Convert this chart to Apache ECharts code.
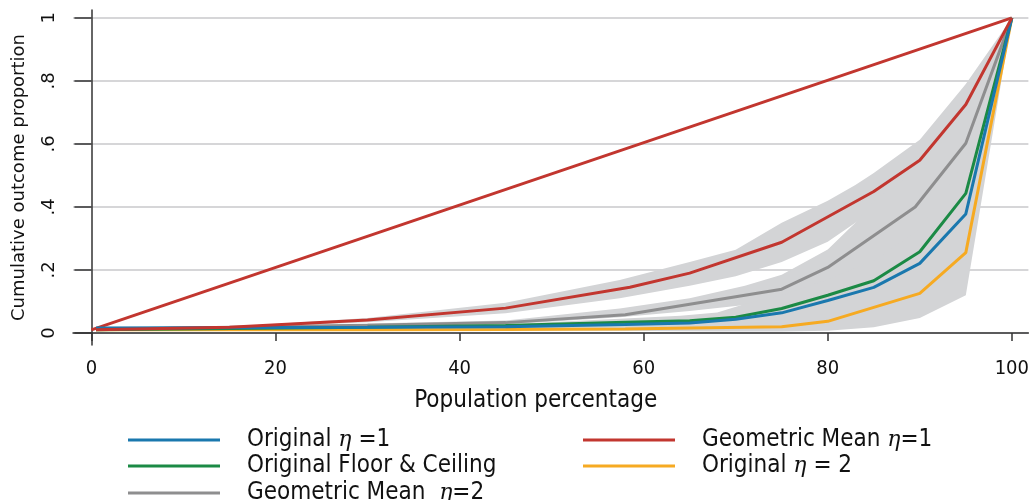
<!DOCTYPE html>
<html>
<head>
<meta charset="utf-8">
<script src="https://cdn.jsdelivr.net/npm/echarts@6/dist/echarts.min.js"></script>
<style>
  html, body { margin: 0; padding: 0; background: #fff; }
  #chart { width: 1032px; height: 500px; }
</style>
</head>
<body>
<div id="chart"></div>
<script>
// tick values
const xTicks = [0, 20, 40, 60, 80, 100];
const yTicks = [0, 0.2, 0.4, 0.6, 0.8, 1];
const yTickLabels = ["0", ".2", ".4", ".6", ".8", "1"];

// series names
const nameBlue = "Original η =1";
const nameRed = "Geometric Mean η=1";
const nameGreen = "Original Floor & Ceiling";
const nameYellow = "Original η = 2";
const nameGray = "Geometric Mean  η=2";

// equality line
const eqX = [0, 100];
const eqY = [0.01, 1];

// curves
const redX = [0.5, 15, 30, 45, 58.5, 65, 75, 85, 90, 95, 100];
const redY = [0.01, 0.018, 0.041, 0.079, 0.145, 0.19, 0.288, 0.449, 0.548, 0.725, 1];

const grayX = [0.5, 30, 45, 58, 75, 80, 89.5, 95, 100];
const grayY = [0.012, 0.025, 0.033, 0.058, 0.139, 0.208, 0.4, 0.602, 1];

const greenX = [0.5, 30, 45, 58, 65, 70, 75, 80, 85, 90, 95, 100];
const greenY = [0.01, 0.018, 0.024, 0.034, 0.039, 0.05, 0.078, 0.12, 0.166, 0.258, 0.443, 1];

const blueX = [0.5, 30, 45, 58, 65, 70, 75, 80, 85, 90, 95, 100];
const blueY = [0.016, 0.018, 0.02, 0.027, 0.032, 0.044, 0.064, 0.103, 0.145, 0.221, 0.378, 1];

const yellowX = [0.5, 30, 45, 58, 65, 75, 80, 90, 95, 100];
const yellowY = [0.01, 0.01, 0.011, 0.013, 0.016, 0.02, 0.037, 0.126, 0.255, 1];

// confidence bands
const redBandX = [0.5, 15, 30, 45, 57.4, 65, 70, 75, 80, 83, 85, 90, 95, 100];
const redBandLo = [0.01, 0.016, 0.034, 0.063, 0.11, 0.15, 0.18, 0.225, 0.29, 0.35, 0.39, 0.47, 0.66, 1];
const redBandHi = [0.01, 0.02, 0.048, 0.096, 0.168, 0.225, 0.264, 0.35, 0.42, 0.47, 0.508, 0.613, 0.79, 1];

const grayBandX = [0.5, 30, 45, 57.4, 65, 71, 75, 80, 83, 85, 90, 95, 100];
const grayBandLo = [0.01, 0.02, 0.027, 0.05, 0.07, 0.089, 0.1, 0.14, 0.17, 0.2, 0.3, 0.48, 1];
const grayBandHi = [0.012, 0.03, 0.04, 0.078, 0.11, 0.15, 0.185, 0.265, 0.35, 0.42, 0.52, 0.7, 1];

const lowBandX = [0.5, 30, 45, 57.4, 64, 68, 71, 75, 80, 85, 90, 95, 100];
const lowBandLo = [0.008, 0.008, 0.008, 0.007, 0.006, 0.005, 0.005, 0.005, 0.007, 0.018, 0.048, 0.12, 1];
const lowBandHi = [0.018, 0.022, 0.028, 0.045, 0.055, 0.065, 0.092, 0.12, 0.17, 0.23, 0.33, 0.55, 1];

const bandColor = "#d3d4d6";
const FONT_NARROW = '"DejaVu Sans Condensed", "Liberation Sans Narrow", sans-serif';
const FONT = '"DejaVu Sans", sans-serif';

const pairs = (xs, ys) => xs.map((x, i) => [x, ys[i]]);

// shaded interval: polygon through the upper bound, back along the lower bound
const band = (xs, lo, hi) => ({
  type: "custom",
  silent: true,
  data: pairs(xs, hi),
  encode: { x: 0, y: 1 },
  renderItem: (params, api) => {
    if (params.dataIndex !== 0) return;
    const top = xs.map((x, i) => api.coord([x, hi[i]]));
    const bottom = xs.map((x, i) => api.coord([x, lo[i]])).reverse();
    return {
      type: "polygon",
      shape: { points: top.concat(bottom) },
      style: { fill: bandColor },
    };
  },
});

const curve = (name, xs, ys, color) => ({
  name: name,
  type: "line",
  data: pairs(xs, ys),
  symbol: "none",
  lineStyle: { width: 3, color: color },
  itemStyle: { color: color },
});

const legendItem = (name, left, top) => ({
  data: [name],
  left: left,
  top: top,
  padding: 0,
  icon: "rect",
  itemWidth: 92,
  itemHeight: 3,
  selectedMode: false,
  formatter: (n) => n.replace("η", "{e|η}"),
  textStyle: {
    fontFamily: FONT_NARROW,
    fontSize: 24,
    lineHeight: 24,
    color: "#111",
    padding: [0, 0, 0, 22],
    rich: {
      e: { fontFamily: '"DejaVu Serif", serif', fontStyle: "italic", fontSize: 22, lineHeight: 24, color: "#111" },
    },
  },
});

const chart = echarts.init(document.getElementById("chart"));

chart.setOption({
  animation: false,
  grid: { left: 73, right: 2, top: 10, bottom: 155 },
  legend: [
    legendItem(nameBlue, 128, 428),
    legendItem(nameGreen, 128, 454),
    legendItem(nameGray, 128, 481),
    legendItem(nameRed, 583, 428),
    legendItem(nameYellow, 583, 454),
  ],
  xAxis: {
    type: "value",
    min: -2,
    max: 101.8,
    name: "Population percentage",
    nameLocation: "middle",
    nameGap: 44,
    nameTextStyle: { fontFamily: FONT_NARROW, fontSize: 24, color: "#111", padding: [0, 30, 0, 0] },
    axisLine: { lineStyle: { color: "#333", width: 1.5 } },
    axisTick: { customValues: xTicks, length: 8, lineStyle: { color: "#333", width: 1.5 } },
    axisLabel: { customValues: xTicks, margin: 14, fontFamily: FONT_NARROW, fontSize: 20, color: "#111" },
    splitLine: { show: false },
  },
  yAxis: {
    type: "value",
    min: -0.038,
    max: 1.025,
    name: "Cumulative outcome proportion",
    nameLocation: "middle",
    nameGap: 45,
    nameTextStyle: { fontFamily: FONT, fontSize: 18, color: "#111" },
    axisLine: { show: true, lineStyle: { color: "#333", width: 1.5 } },
    axisTick: { show: true, customValues: yTicks, length: 17, lineStyle: { color: "#333", width: 1.5 } },
    axisLabel: {
      customValues: yTicks,
      rotate: 90,
      margin: 15,
      fontFamily: FONT,
      fontSize: 18,
      color: "#111",
      formatter: (v) => yTickLabels[yTicks.findIndex((t) => Math.abs(t - v) < 1e-6)] ?? "",
    },
    splitLine: { show: true, lineStyle: { color: "#c8c9cb", width: 1.5 } },
  },
  series: [
    band(redBandX, redBandLo, redBandHi),
    band(grayBandX, grayBandLo, grayBandHi),
    band(lowBandX, lowBandLo, lowBandHi),
    curve("eq", eqX, eqY, "#c2362f"),
    curve(nameGray, grayX, grayY, "#8e8e8f"),
    curve(nameYellow, yellowX, yellowY, "#f6aa22"),
    curve(nameGreen, greenX, greenY, "#1b8a45"),
    curve(nameBlue, blueX, blueY, "#1a78ae"),
    curve(nameRed, redX, redY, "#c2362f"),
  ],
});
</script>
</body>
</html>
